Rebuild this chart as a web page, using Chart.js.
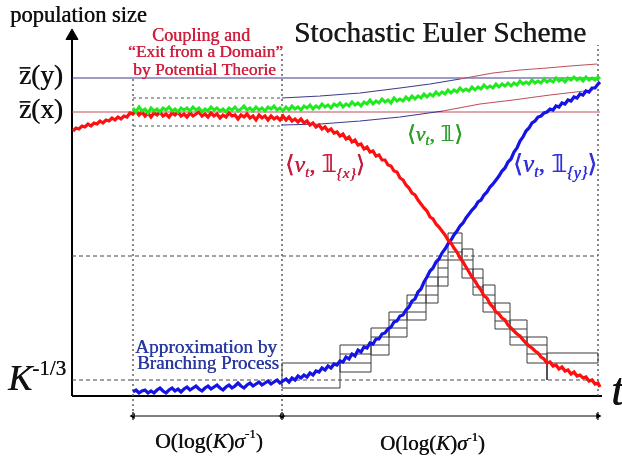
<!DOCTYPE html>
<html>
<head>
<meta charset="utf-8">
<script src="https://cdn.jsdelivr.net/npm/chart.js@4/dist/chart.umd.min.js"></script>
<style>
  html, body { margin: 0; padding: 0; background: #fff; }
</style>
</head>
<body>
<canvas id="c" width="622" height="456"></canvas>
<script>
// time t (x) and population size (y), arbitrary units
// red: <nu_t, 1_{x}>
const redPath = [[1,265],[4,268],[7,267],[10,270],[13,269],[16,272],[19,270],[22,273],[25,272],[28,275],[31,273],[34,276],[37,275],[40,278],[43,276],[46,279],[49,277],[52,280],[55,279],[58,283],[61,282],[64,285],[67,281],[70,284],[73,280],[76,283],[79,279],[82,283],[85,281],[88,284],[91,280],[94,282],[97,279],[100,283],[103,281],[106,284],[109,280],[112,282],[115,279],[118,283],[121,280],[124,282],[127,284],[130,280],[133,282],[136,279],[139,283],[142,280],[145,282],[148,278],[151,281],[154,279],[157,283],[160,280],[163,281],[166,277],[169,281],[172,279],[175,282],[178,278],[181,280],[184,276],[187,281],[190,278],[193,280],[196,276],[199,280],[202,277],[205,279],[208,276],[211,280],[214,276],[217,279],[220,275],[223,277],[226,274],[229,277],[232,273],[235,275],[238,271],[241,273],[244,269],[247,271],[250,267],[253,269],[256,265],[259,267],[262,263],[265,264],[268,260],[271,262],[274,257],[277,259],[280,254],[283,256],[286,251],[289,252],[292,247],[295,249],[298,244],[301,245],[304,240],[307,241],[310,236],[313,236],[316,231],[319,230],[322,225],[325,224],[328,218],[331,216],[334,211],[337,208],[340,203],[343,201],[346,196],[349,192],[352,188],[355,185],[358,179],[361,177],[364,172],[367,169],[370,165],[373,161],[376,156],[379,153],[382,148],[385,144],[388,138],[391,134],[394,129],[397,124],[400,119],[403,115],[406,110],[409,106],[412,100],[415,98],[418,92],[421,89],[424,84],[427,82],[430,78],[433,76],[436,71],[439,68],[442,65],[445,62],[448,60],[451,56],[454,53],[457,50],[460,48],[463,45],[466,43],[469,39],[472,37],[475,33],[478,34],[481,30],[484,31],[487,27],[490,29],[493,25],[496,26],[499,22],[502,24],[505,20],[508,21],[511,18],[514,19],[517,15],[520,16],[523,12],[526,13],[528,9]];

// blue: <nu_t, 1_{y}>
const bluePath = [[61,4],[64,6],[67,3],[70,5],[73,6],[76,3],[79,5],[82,3],[85,6],[88,8],[91,5],[94,3],[97,6],[100,8],[103,5],[106,7],[109,4],[112,7],[115,9],[118,6],[121,8],[124,10],[127,7],[130,5],[133,8],[136,10],[139,7],[142,9],[145,11],[148,8],[151,6],[154,9],[157,11],[160,8],[163,10],[166,13],[169,10],[172,8],[175,11],[178,13],[181,10],[184,12],[187,14],[190,11],[193,13],[196,15],[199,12],[202,14],[205,16],[208,13],[211,15],[214,17],[217,14],[220,18],[223,16],[226,20],[229,18],[232,21],[235,19],[238,23],[241,21],[244,25],[247,24],[250,28],[253,26],[256,30],[259,28],[262,32],[265,31],[268,35],[271,34],[274,39],[277,37],[280,42],[283,40],[286,46],[289,44],[292,49],[295,48],[298,53],[301,52],[304,57],[307,57],[310,62],[313,63],[316,67],[319,69],[322,74],[325,75],[328,80],[331,81],[334,86],[337,89],[340,95],[343,97],[346,104],[349,107],[352,114],[355,119],[358,125],[361,128],[364,134],[367,137],[370,143],[373,147],[376,152],[379,156],[382,161],[385,165],[388,170],[391,173],[394,178],[397,182],[400,186],[403,189],[406,194],[409,196],[412,201],[415,204],[418,209],[421,212],[424,216],[427,220],[430,225],[433,228],[436,234],[439,237],[442,244],[445,248],[448,255],[451,259],[454,265],[457,268],[460,273],[463,275],[466,279],[469,280],[472,283],[475,284],[478,287],[481,286],[484,290],[487,289],[490,293],[493,292],[496,296],[499,295],[502,299],[505,298],[508,302],[511,301],[514,305],[517,304],[520,308],[523,308],[526,312],[528,314]];

// green: <nu_t, 1>
const greenPath = [[61,288],[64,284],[67,289],[70,285],[73,287],[76,283],[79,288],[82,285],[85,287],[88,284],[91,288],[94,286],[97,289],[100,285],[103,287],[106,284],[109,288],[112,286],[115,288],[118,285],[121,289],[124,286],[127,288],[130,284],[133,287],[136,285],[139,289],[142,286],[145,288],[148,285],[151,287],[154,284],[157,288],[160,286],[163,289],[166,285],[169,287],[172,290],[175,286],[178,288],[181,285],[184,289],[187,286],[190,288],[193,285],[196,289],[199,287],[202,290],[205,286],[208,288],[211,285],[214,289],[217,286],[220,290],[223,287],[226,289],[229,286],[232,290],[235,288],[238,291],[241,287],[244,290],[247,288],[250,292],[253,289],[256,291],[259,288],[262,292],[265,290],[268,293],[271,289],[274,292],[277,290],[280,294],[283,291],[286,293],[289,290],[292,294],[295,292],[298,296],[301,292],[304,295],[307,293],[310,297],[313,294],[316,296],[319,293],[322,298],[325,295],[328,297],[331,295],[334,299],[337,296],[340,300],[343,297],[346,300],[349,298],[352,302],[355,299],[358,302],[361,300],[364,304],[367,301],[370,304],[373,302],[376,306],[379,303],[382,306],[385,304],[388,308],[391,305],[394,307],[397,305],[400,309],[403,306],[406,309],[409,307],[412,311],[415,308],[418,310],[421,308],[424,312],[427,309],[430,312],[433,310],[436,313],[439,310],[442,313],[445,311],[448,315],[451,312],[454,314],[457,312],[460,316],[463,313],[466,315],[469,313],[472,317],[475,314],[478,316],[481,314],[484,318],[487,315],[490,317],[493,314],[496,318],[499,316],[502,319],[505,316],[508,318],[511,315],[514,319],[517,316],[520,318],[523,316],[526,319],[528,317]];

// thin envelope curves of the deterministic system
const upperEnv = [[210,298],[248,300],[288,303],[328,308],[358,312],[388,317],[421,323],[448,326],[475,328],[498,330],[525,332]];
const lowerEnv = [[210,271],[248,272],[288,275],[328,279],[371,285],[408,292],[441,296],[478,301],[521,306]];

// reference levels
const zBarY = 318;      // z(y)
const zBarX = 284;      // z(x)
const kLevel = 16;      // K^-1/3
const midLevel = 140;
const boxLevels = [298, 270];
const phaseT = [61, 210, 526];
const tEnd = 530;
const yTop = 360;
const arrowY = -20;

// staircase of the Euler scheme (column edges and horizontal levels)
const blueColT = [210, 268, 299, 317, 335, 354, 366, 376, 390];
const blueColV = [[33,8],[51,42,33,24],[68,59,51,41],[84,76,68,59],[101,93,84,76],[119,110,101,93],[136,128,119,110],[163,153,144,136]];
const redColT = [390, 401, 411, 423, 438, 455, 475, 526];
const redColV = [[147,136,127,118],[127,118,109,101],[111,101,93,84],[93,84,75,67],[76,67,59,51],[59,51,42,33],[43,33]];
const redDrop = [[475,33],[475,16]];

const RED = '#ff1010';
const BLUE = '#1414e6';
const GREEN = '#1eea1e';
const NAVY = '#3b3b8f';
const ROSE = '#c0505c';
const SERIF = "'Liberation Serif', 'DejaVu Serif', serif";

function pts(a) { return a.map(p => ({ x: p[0], y: p[1] })); }

function stairSegments(colT, colV) {
  const out = [];
  colV.forEach((lv, i) => {
    const a = colT[i], b = colT[i + 1];
    const lo = Math.min(...lv), hi = Math.max(...lv);
    lv.forEach(v => { out.push({ x: a, y: v }, { x: b, y: v }, { x: b, y: null }); });
    out.push({ x: a, y: lo }, { x: a, y: hi }, { x: a, y: null });
    out.push({ x: b, y: lo }, { x: b, y: hi }, { x: b, y: null });
  });
  return out;
}

function hline(v, t0, t1) { return [{ x: t0, y: v }, { x: t1, y: v }]; }
function vline(t, v0, v1) { return [{ x: t, y: v0 }, { x: t, y: v1 }]; }

function lineSet(data, color, width, dash) {
  return { data: data, borderColor: color, borderWidth: width, borderDash: dash || [], pointRadius: 0, fill: false };
}

// ---- text ----
function fontOf(r, k) {
  return (r.it ? 'italic ' : '') + (r.em * k).toFixed(1) + 'px ' + (r.f || SERIF);
}
function runsWidth(ctx, runs, k) {
  let w = 0;
  runs.forEach(r => { ctx.font = fontOf(r, k); w += ctx.measureText(r.s).width; });
  return w;
}
function drawRuns(ctx, runs, x0, x1, base, color) {
  const k = 20 * (x1 - x0) / runsWidth(ctx, runs, 20);
  let x = x0;
  ctx.fillStyle = color;
  ctx.textBaseline = 'alphabetic';
  ctx.textAlign = 'left';
  runs.forEach(r => {
    ctx.font = fontOf(r, k);
    const w = ctx.measureText(r.s).width;
    const y = base + (r.dy || 0) * k;
    // second pass shifted a little to thicken the strokes like the source
    ctx.fillText(r.s, x, y);
    ctx.fillText(r.s, x + 0.45, y);
    if (r.bar) ctx.fillRect(x + 0.05 * w, base - r.bar * k, w * 0.9, Math.max(1.2, 0.06 * k));
    x += w;
  });
}
function plain(s) { return [{ s: s, em: 1 }]; }
function nu(idx) {
  const r = [{ s: '\u27E8', em: 1 }, { s: '\u03BD', em: 1, it: true }, { s: 't', em: 0.65, it: true, dy: 0.2 },
             { s: ', ', em: 1 }, { s: '\uD835\uDFD9', em: 1, f: "'DejaVu Sans', serif" }];
  if (idx) r.push({ s: '{' + idx + '}', em: 0.65, it: true, dy: 0.25 });
  r.push({ s: '\u27E9', em: 1 });
  return r;
}
const oLabel = [{ s: 'O(log(', em: 1 }, { s: 'K', em: 1, it: true }, { s: ')', em: 1 },
                { s: '\u03C3', em: 1, it: true }, { s: '-1', em: 0.6, dy: -0.45 }, { s: ')', em: 1 }];

const textPlugin = {
  id: 'texts',
  afterDatasetsDraw(chart) {
    const ctx = chart.ctx;
    ctx.save();
    drawRuns(ctx, plain('population size'), 10, 147, 22, '#111');
    drawRuns(ctx, plain('Stochastic Euler Scheme'), 294, 586, 42, '#1a1a1a');
    drawRuns(ctx, plain('Coupling and'), 152, 250, 41, '#d0203e');
    drawRuns(ctx, plain('\u201CExit from a Domain\u201D'), 128, 283, 57, '#d0203e');
    drawRuns(ctx, plain('by Potential Theorie'), 133, 276, 75, '#d0203e');
    drawRuns(ctx, [{ s: 'z', em: 1, bar: 0.62 }, { s: '(y)', em: 1 }], 19, 63, 84, '#111');
    drawRuns(ctx, [{ s: 'z', em: 1, bar: 0.62 }, { s: '(x)', em: 1 }], 19, 63, 118, '#111');
    drawRuns(ctx, [{ s: 'K', em: 1, it: true }, { s: '-1/3', em: 0.58, dy: -0.42 }], 8, 66, 390, '#111');
    drawRuns(ctx, nu(''), 407, 463, 141, '#2aa02a');
    drawRuns(ctx, nu('x'), 285, 365, 172, '#c41e3e');
    drawRuns(ctx, nu('y'), 513, 597, 172, '#3030dc');
    drawRuns(ctx, plain('Approximation by'), 135, 277, 353, '#2a3aa0');
    drawRuns(ctx, plain('Branching Process'), 137, 279, 369, '#2a3aa0');
    drawRuns(ctx, oLabel, 155, 263, 448, '#111');
    drawRuns(ctx, oLabel, 380, 485, 450, '#111');
    drawRuns(ctx, [{ s: 't', em: 1, it: true }], 611, 624, 405, '#111');
    ctx.restore();
  }
};

const datasets = [
  lineSet(pts(greenPath), GREEN, 3),
  lineSet(pts(redPath), RED, 3.2),
  lineSet(pts(bluePath), BLUE, 3.2),
  lineSet(stairSegments(blueColT, blueColV), '#3a3a3a', 1),
  lineSet(stairSegments(redColT, redColV).concat(pts(redDrop)), '#3a3a3a', 1),
  Object.assign(lineSet(pts(upperEnv), NAVY, 1.2), { segment: { borderColor: c => (c.p0.parsed.y + c.p1.parsed.y) / 2 > zBarY ? ROSE : NAVY } }),
  Object.assign(lineSet(pts(lowerEnv), NAVY, 1.2), { segment: { borderColor: c => (c.p0.parsed.y + c.p1.parsed.y) / 2 > zBarX ? ROSE : NAVY } }),
  lineSet(hline(zBarY, 0, phaseT[2] + 2), NAVY, 1.2),
  lineSet(hline(zBarX, 0, phaseT[2] + 2), ROSE, 1.2),
  lineSet(hline(boxLevels[0], phaseT[0], phaseT[1]), '#555', 1, [3, 3]),
  lineSet(hline(boxLevels[1], phaseT[0], phaseT[1]), '#555', 1, [3, 3]),
  lineSet(hline(kLevel, 0, phaseT[2]), '#444', 1, [4, 3]),
  lineSet(hline(midLevel, 0, phaseT[2]), '#444', 1, [4, 3]),
  lineSet(vline(phaseT[0], arrowY, 320), '#555', 1.4, [2, 3]),
  lineSet(vline(phaseT[1], arrowY, 343), '#555', 1.4, [2, 3]),
  lineSet(vline(phaseT[2], 0, 351), '#555', 1.4, [2, 3]),
  lineSet(vline(0, 0, yTop), '#000', 2),
  lineSet(hline(0, 0, tEnd), '#000', 2),
  { data: [{ x: 0, y: yTop }], showLine: false, pointStyle: 'triangle', pointRadius: 7,
    pointBackgroundColor: '#000', pointBorderColor: '#000', pointBorderWidth: 1 },
  { data: hline(arrowY, phaseT[0], phaseT[1]), borderColor: '#000', borderWidth: 1, pointStyle: 'triangle',
    pointRadius: 3.5, pointRotation: [-90, 90], pointBackgroundColor: '#000', pointBorderColor: '#000', pointBorderWidth: 0 },
  { data: hline(arrowY, phaseT[1], phaseT[2]), borderColor: '#000', borderWidth: 1, pointStyle: 'triangle',
    pointRadius: 3.5, pointRotation: [-90, 90], pointBackgroundColor: '#000', pointBorderColor: '#000', pointBorderWidth: 0 },
  { data: phaseT.map(t => ({ x: t, y: arrowY })), showLine: false, pointStyle: 'line', pointRotation: 90,
    pointRadius: 4, pointBorderColor: '#000', pointBorderWidth: 1.2 }
];

new Chart(document.getElementById('c'), {
  type: 'line',
  data: { datasets: datasets },
  options: {
    responsive: false,
    animation: false,
    events: [],
    layout: { padding: 0, autoPadding: false },
    plugins: { legend: { display: false }, tooltip: { enabled: false } },
    elements: { line: { tension: 0 } },
    scales: {
      x: { type: 'linear', min: -72, max: 550, display: false },
      y: { type: 'linear', min: -60, max: 396, display: false }
    }
  },
  plugins: [textPlugin]
});
</script>
</body>
</html>
